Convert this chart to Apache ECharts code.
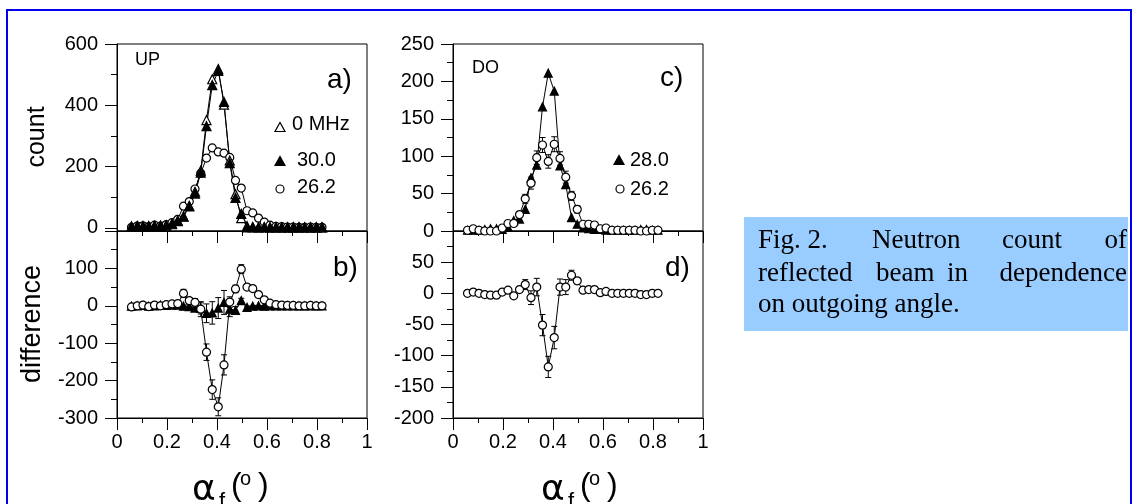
<!DOCTYPE html>
<html>
<head>
<meta charset="utf-8">
<script src="https://cdn.jsdelivr.net/npm/echarts@6/dist/echarts.min.js"></script>
<style>html,body{margin:0;padding:0;background:#fff}#c{width:1133px;height:504px}</style>
</head>
<body>
<div id="c"></div>
<script>
// ---- data ----
const xs = [0.058,0.081,0.104,0.127,0.150,0.174,0.197,0.220,0.243,0.266,0.289,0.312,0.335,0.358,0.381,0.405,0.428,0.451,0.474,0.497,0.520,0.543,0.566,0.589,0.612,0.636,0.659,0.682,0.705,0.728,0.751,0.774,0.797,0.820];
// panel a (UP)
const upZero = [5,6,5,6,7,6,8,12,22,38,72,118,187,352,485,518,402,220,110,32,6,3,2,3,2,2,2,2,2,2,2,2,2,2];
const up30   = [4,6,6,5,7,8,9,14,24,37,70,112,180,332,466,512,411,211,98,46,2,2,2,2,2,2,2,2,2,2,2,2,2,2];
const up26   = [2,6,7,4,9,6,11,17,28,71,86,127,178,228,261,248,244,230,155,130,56,49,32,19,9,5,4,3,3,2,2,3,2,2];
// panel b (UP difference)
const upDiffTri    = [-1,0,1,-1,0,2,1,2,2,-1,-2,-6,-7,-20,-19,-6,9,-9,-12,14,-4,-1,0,-1,0,0,0,0,0,0,0,0,0,0];
const upDiffTriErr = [1,1,1,1,1,1,1,2,2,3,5,8,15,25,30,28,32,20,10,6,3,2,1,1,1,1,1,1,1,1,1,1,1,1];
const upDiffCirc    = [-3,0,2,-2,2,0,3,5,6,33,14,9,-9,-124,-224,-270,-158,10,45,98,50,46,30,16,7,3,2,1,1,0,0,1,0,0];
const upDiffCircErr = [2,2,2,2,2,2,3,4,5,11,8,10,20,22,26,24,27,14,10,12,6,5,4,3,2,2,2,2,2,2,2,2,2,2];
// panel c (DO)
const doTri   = [1,1,1,2,3,3,2,5,14,16,29,71,88,166,211,187,87,62,18,9,4,3,2,2,1,1,1,1,1,1,2,2,1,1];
const doCirc  = [1,3,1,0,0,0,4,10,10,22,43,64,98,115,93,116,97,72,47,29,9,9,8,3,4,1,1,1,1,1,0,0,1,1];
const doCircErr = [1,1,1,1,1,1,2,3,3,4,6,8,9,10,9,10,9,8,6,5,3,3,3,2,2,1,1,1,1,1,1,1,1,1];
// panel d (DO difference)
const doDiff    = [0,2,0,-2,-3,-3,2,5,-4,6,14,-7,10,-51,-118,-71,10,10,29,20,5,6,6,1,3,0,0,0,0,0,-2,-2,0,0];
const doDiffErr = [1,1,1,1,1,1,2,3,3,4,8,11,14,17,17,18,13,12,8,5,3,3,3,2,2,1,1,1,1,1,1,1,1,1];
// tick labels
const upCountLabels = [0,200,400,600];
const upCountMinor  = [100,300,500];

const FONT = 'Liberation Sans';
const pairs = ys => xs.map((x,i)=>[x, ys[i]]);
const bars = (ys, es) => xs.map((x,i)=>[x, ys[i]-es[i], ys[i]+es[i]]);

function lineSeries(xi, yi, ys, symbol, filled, size) {
  return {type:'line', xAxisIndex:xi, yAxisIndex:yi, data:pairs(ys), symbol:symbol, symbolSize:size,
    showSymbol:true, clip:false, lineStyle:{color:'#000', width:1},
    itemStyle:{color: filled ? '#000' : '#fff', borderColor:'#000', borderWidth:1.2}, z:3, silent:true};
}
function errSeries(xi, yi, ys, es) {
  return {type:'custom', xAxisIndex:xi, yAxisIndex:yi, data:bars(ys, es), encode:{x:0, y:[1,2]}, z:2, silent:true,
    renderItem: function(params, api) {
      const x = api.value(0), lo = api.value(1), hi = api.value(2);
      const p1 = api.coord([x, lo]), p2 = api.coord([x, hi]);
      const w = 3, st = {stroke:'#000', lineWidth:1};
      return {type:'group', children:[
        {type:'line', shape:{x1:p1[0], y1:p1[1], x2:p2[0], y2:p2[1]}, style:st},
        {type:'line', shape:{x1:p1[0]-w, y1:p1[1], x2:p1[0]+w, y2:p1[1]}, style:st},
        {type:'line', shape:{x1:p2[0]-w, y1:p2[1], x2:p2[0]+w, y2:p2[1]}, style:st}
      ]};
    }};
}

const grids = [
  {left:117, top:44, width:250, height:187},
  {left:117, top:231, width:250, height:187},
  {left:453, top:44, width:250, height:187},
  {left:453, top:231, width:250, height:187}
].map(g => Object.assign(g, {show:true, borderColor:'#000', borderWidth:1, backgroundColor:'transparent', containLabel:false}));

function xAx(gi, labels) {
  return {type:'value', gridIndex:gi, min:0, max:1, interval:0.2, position:'bottom',
    axisLine:{show:true, onZero:false, lineStyle:{color:'#000', width:1}},
    axisTick:{show:true, length:12, lineStyle:{color:'#000'}},
    minorTick:{show:true, splitNumber:2, length:5, lineStyle:{color:'#000'}},
    splitLine:{show:false},
    axisLabel:{show:labels, color:'#000', fontSize:20, fontFamily:FONT, margin:14}};
}
const yBase = {type:'value', position:'left', splitLine:{show:false},
  axisLine:{show:true, onZero:false, lineStyle:{color:'#000', width:1}},
  axisTick:{show:true, length:12, lineStyle:{color:'#000'}},
  minorTick:{show:true, splitNumber:2, length:6, lineStyle:{color:'#000'}},
  axisLabel:{color:'#000', fontSize:20, fontFamily:FONT, margin:19}};
const yAxes = [
  Object.assign({}, yBase, {gridIndex:0, min:-10, max:600, minorTick:{show:false},
    axisTick:{show:true, length:12, customValues:upCountLabels, lineStyle:{color:'#000'}},
    axisLabel:Object.assign({}, yBase.axisLabel, {customValues:upCountLabels})}),
  Object.assign({}, yBase, {gridIndex:0, min:-10, max:600, minorTick:{show:false}, axisLine:{show:false, onZero:false},
    axisTick:{show:true, length:6, customValues:upCountMinor, lineStyle:{color:'#000'}},
    axisLabel:{show:false, customValues:upCountMinor}}),
  Object.assign({}, yBase, {gridIndex:1, min:-300, max:200, interval:100,
    axisLabel:Object.assign({}, yBase.axisLabel, {showMaxLabel:false})}),
  Object.assign({}, yBase, {gridIndex:2, min:0, max:250, interval:50}),
  Object.assign({}, yBase, {gridIndex:3, min:-200, max:100, interval:50,
    axisLabel:Object.assign({}, yBase.axisLabel, {showMaxLabel:false})})
];

function txt(x, y, s, size, opts) {
  return Object.assign({type:'text', x:x, y:y, z:10, silent:true,
    style:Object.assign({text:s, fill:'#000', font: size + 'px "' + FONT + '"', textAlign:'left', textVerticalAlign:'middle'}, (opts||{}).style||{})},
    (opts||{}).el||{});
}
function tri(cx, cy, filled) {
  return {type:'polygon', z:10, silent:true, shape:{points:[[cx-5,cy+4.5],[cx+5,cy+4.5],[cx,cy-4.5]]},
    style:{fill: filled ? '#000' : '#fff', stroke:'#000', lineWidth:1.2}};
}
function circ(cx, cy) {
  return {type:'circle', z:10, silent:true, shape:{cx:cx, cy:cy, r:4}, style:{fill:'#fff', stroke:'#000', lineWidth:1.2}};
}
function axisTitle(L) {
  const SANS = '"DejaVu Sans"';
  return [
    {type:'text', x:L, y:491, z:10, style:{text:'α', fill:'#000', font:'36px ' + SANS, textVerticalAlign:'middle'}},
    {type:'text', x:L+27, y:502, z:10, style:{text:'f', fill:'#000', font:'22px "' + FONT + '"', textVerticalAlign:'middle'}},
    {type:'text', x:L+39, y:486, z:10, style:{text:'(', fill:'#000', font:'32px "' + FONT + '"', textVerticalAlign:'middle'}},
    {type:'text', x:L+48, y:479, z:10, style:{text:'o', fill:'#000', font:'20px "' + FONT + '"', textVerticalAlign:'middle'}},
    {type:'text', x:L+66, y:486, z:10, style:{text:')', fill:'#000', font:'32px "' + FONT + '"', textVerticalAlign:'middle'}}
  ];
}
const SERIF = '27px "Liberation Serif"';
function cap(x, y, s, align) {
  return {type:'text', x:x, y:y, z:10, style:{text:s, fill:'#000', font:SERIF, textAlign:align||'left', textVerticalAlign:'middle'}};
}

const graphics = [
  {type:'rect', z:1, shape:{x:7, y:10, width:1124, height:520}, style:{fill:'none', stroke:'#0000ee', lineWidth:2}},
  {type:'rect', z:5, shape:{x:744, y:217, width:384, height:114}, style:{fill:'#99ccff', stroke:'none'}},
  cap(758, 241, 'Fig. 2.'), cap(872, 241, 'Neutron'), cap(1002, 241, 'count'), cap(1127, 241, 'of', 'right'),
  cap(758, 274, 'reflected'), cap(876, 274, 'beam'), cap(947, 274, 'in'), cap(1127, 274, 'dependence', 'right'),
  cap(758, 305, 'on outgoing angle.'),
  // panel annotations
  txt(135, 60, 'UP', 18), txt(327, 80, 'a)', 28), txt(333, 268, 'b)', 28),
  txt(472, 68, 'DO', 18), txt(660, 78, 'c)', 28), txt(665, 268, 'd)', 28),
  // legends
  tri(280, 127, false), txt(292, 124, '0 MHz', 20),
  tri(280, 161, true), txt(297, 160, '30.0', 20),
  circ(280, 189), txt(297, 187, '26.2', 20),
  tri(619, 160, true), txt(630, 160, '28.0', 20),
  circ(620, 189), txt(630, 189, '26.2', 20),
  // y axis titles
  {type:'text', x:37, y:137, rotation:Math.PI/2, z:10, style:{text:'count', fill:'#000', font:'25px "' + FONT + '"', textAlign:'center', textVerticalAlign:'middle'}},
  {type:'text', x:33, y:324, rotation:Math.PI/2, z:10, style:{text:'difference', fill:'#000', font:'27px "' + FONT + '"', textAlign:'center', textVerticalAlign:'middle'}}
].concat(axisTitle(192), axisTitle(541));

const option = {
  animation:false,
  backgroundColor:'#fff',
  textStyle:{fontFamily:FONT},
  grid:grids,
  xAxis:[xAx(0,false), xAx(1,true), xAx(2,false), xAx(3,true)],
  yAxis:yAxes,
  graphic:graphics,
  series:[
    lineSeries(0,0,up26,'circle',false,8),
    lineSeries(0,0,upZero,'triangle',false,9),
    lineSeries(0,0,up30,'triangle',true,9),
    errSeries(1,2,upDiffTri,upDiffTriErr),
    errSeries(1,2,upDiffCirc,upDiffCircErr),
    lineSeries(1,2,upDiffTri,'triangle',true,8),
    lineSeries(1,2,upDiffCirc,'circle',false,8),
    errSeries(2,3,doCirc,doCircErr),
    lineSeries(2,3,doTri,'triangle',true,8),
    lineSeries(2,3,doCirc,'circle',false,8),
    errSeries(3,4,doDiff,doDiffErr),
    lineSeries(3,4,doDiff,'circle',false,8)
  ]
};
const chart = echarts.init(document.getElementById('c'), null, {renderer:'canvas'});
chart.setOption(option);
</script>
</body>
</html>
